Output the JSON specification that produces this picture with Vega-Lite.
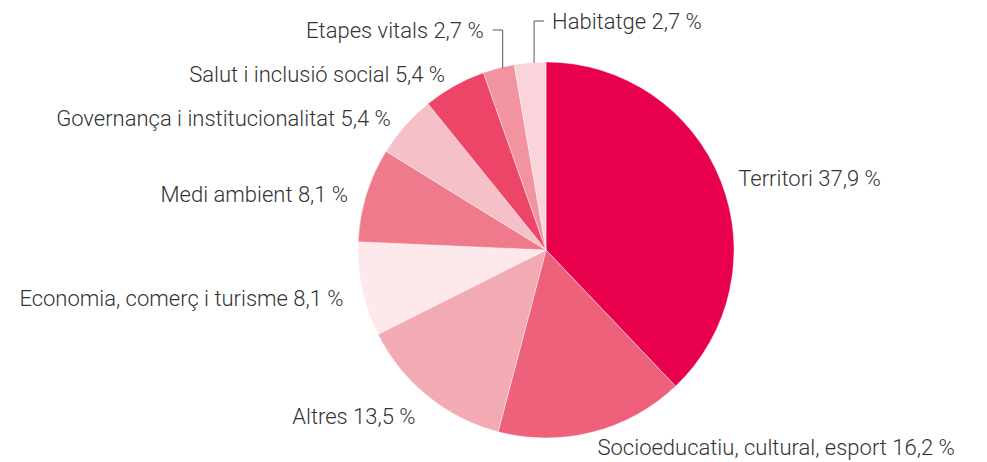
{
  "$schema": "https://vega.github.io/schema/vega-lite/v6.json",
  "autosize": {"type": "none"},
  "padding": {"left": 105, "top": 38, "right": 0, "bottom": 0},
  "width": 882,
  "height": 424,
  "background": "white",
  "config": {"view": {"stroke": null}, "text": {"font": "Roboto", "fontWeight": 300, "fontSize": 22, "color": "#333333", "baseline": "middle"}},
  "data": {
    "values": [
      {"cat": "Territori", "value": 37.9, "order": 1},
      {"cat": "Socioeducatiu, cultural, esport", "value": 16.2, "order": 2},
      {"cat": "Altres", "value": 13.5, "order": 3},
      {"cat": "Economia, comerç i turisme", "value": 8.1, "order": 4},
      {"cat": "Medi ambient", "value": 8.1, "order": 5},
      {"cat": "Governança i institucionalitat", "value": 5.4, "order": 6},
      {"cat": "Salut i inclusió social", "value": 5.4, "order": 7},
      {"cat": "Etapes vitals", "value": 2.7, "order": 8},
      {"cat": "Habitatge", "value": 2.7, "order": 9}
    ]
  },
  "transform": [
    {"window": [{"op": "sum", "field": "value", "as": "cum"}], "sort": [{"field": "order", "order": "ascending"}], "frame": [null, 0]},
    {"joinaggregate": [{"op": "sum", "field": "value", "as": "total"}]},
    {"calculate": "(datum.cum - datum.value / 2) / datum.total * 2 * PI", "as": "ang"},
    {"calculate": "datum.cat + ' ' + replace(format(datum.value, '.1f'), '.', ',') + ' %'", "as": "label"}
  ],
  "layer": [
    {
      "mark": {"type": "arc", "radius": 188, "stroke": "white", "strokeWidth": 0.4},
      "encoding": {
        "theta": {"field": "value", "type": "quantitative", "stack": true},
        "order": {"field": "order", "type": "quantitative", "sort": "ascending"},
        "color": {
          "field": "cat", "type": "nominal", "legend": null,
          "scale": {
            "domain": ["Territori", "Socioeducatiu, cultural, esport", "Altres", "Economia, comerç i turisme", "Medi ambient", "Governança i institucionalitat", "Salut i inclusió social", "Etapes vitals", "Habitatge"],
            "range": ["#e9004c", "#ee617a", "#f2aab3", "#fde8eb", "#ef7a8c", "#f6c0c8", "#ec4567", "#f1949f", "#f9d4da"]
          }
        }
      }
    },
    {
      "transform": [
        {"filter": "datum.value >= 3 && sin(datum.ang) >= 0"},
        {"calculate": "207 * sin(datum.ang)", "as": "lx"},
        {"calculate": "max(207 * cos(datum.ang), -192)", "as": "ly"}
      ],
      "mark": {"type": "text", "align": "left", "dy": 6},
      "encoding": {
        "x": {"field": "lx", "type": "quantitative", "scale": {"domain": [-441, 441], "nice": false, "zero": false}, "axis": null},
        "y": {"field": "ly", "type": "quantitative", "scale": {"domain": [-212, 212], "nice": false, "zero": false}, "axis": null},
        "text": {"field": "label"}
      }
    },
    {
      "transform": [
        {"filter": "datum.value >= 3 && sin(datum.ang) < 0"},
        {"calculate": "207 * sin(datum.ang)", "as": "lx"},
        {"calculate": "max(207 * cos(datum.ang), -192)", "as": "ly"}
      ],
      "mark": {"type": "text", "align": "right", "dy": 6},
      "encoding": {
        "x": {"field": "lx", "type": "quantitative", "axis": null},
        "y": {"field": "ly", "type": "quantitative", "axis": null},
        "text": {"field": "label"}
      }
    },
    {
      "transform": [
        {"filter": "datum.value < 3"},
        {"calculate": "datum.ang > 6.1 ? 1 : -1", "as": "dir"},
        {"calculate": "188 * sin(datum.ang) + 4", "as": "lx"},
        {"calculate": "188 * cos(datum.ang)", "as": "y0"},
        {"calculate": "datum.dir > 0 ? 229 : 220", "as": "ytop"},
        {"calculate": "datum.lx + 10 * datum.dir", "as": "hx"}
      ],
      "layer": [
        {
          "mark": {"type": "rule", "color": "#555555", "strokeWidth": 1},
          "encoding": {
            "x": {"field": "lx", "type": "quantitative", "axis": null},
            "y": {"field": "y0", "type": "quantitative", "axis": null},
            "y2": {"field": "ytop"}
          }
        },
        {
          "mark": {"type": "rule", "color": "#555555", "strokeWidth": 1},
          "encoding": {
            "x": {"field": "lx", "type": "quantitative", "axis": null},
            "x2": {"field": "hx"},
            "y": {"field": "ytop", "type": "quantitative", "axis": null}
          }
        }
      ]
    },
    {
      "transform": [
        {"filter": "datum.value < 3 && datum.ang < 6.1"},
        {"calculate": "188 * sin(datum.ang) + 4 - 19", "as": "lx"},
        {"calculate": "220", "as": "ly"}
      ],
      "mark": {"type": "text", "align": "right", "dy": 1},
      "encoding": {
        "x": {"field": "lx", "type": "quantitative", "axis": null},
        "y": {"field": "ly", "type": "quantitative", "axis": null},
        "text": {"field": "label"}
      }
    },
    {
      "transform": [
        {"filter": "datum.value < 3 && datum.ang >= 6.1"},
        {"calculate": "188 * sin(datum.ang) + 4 + 18", "as": "lx"},
        {"calculate": "229", "as": "ly"}
      ],
      "mark": {"type": "text", "align": "left", "dy": 1},
      "encoding": {
        "x": {"field": "lx", "type": "quantitative", "axis": null},
        "y": {"field": "ly", "type": "quantitative", "axis": null},
        "text": {"field": "label"}
      }
    }
  ]
}
